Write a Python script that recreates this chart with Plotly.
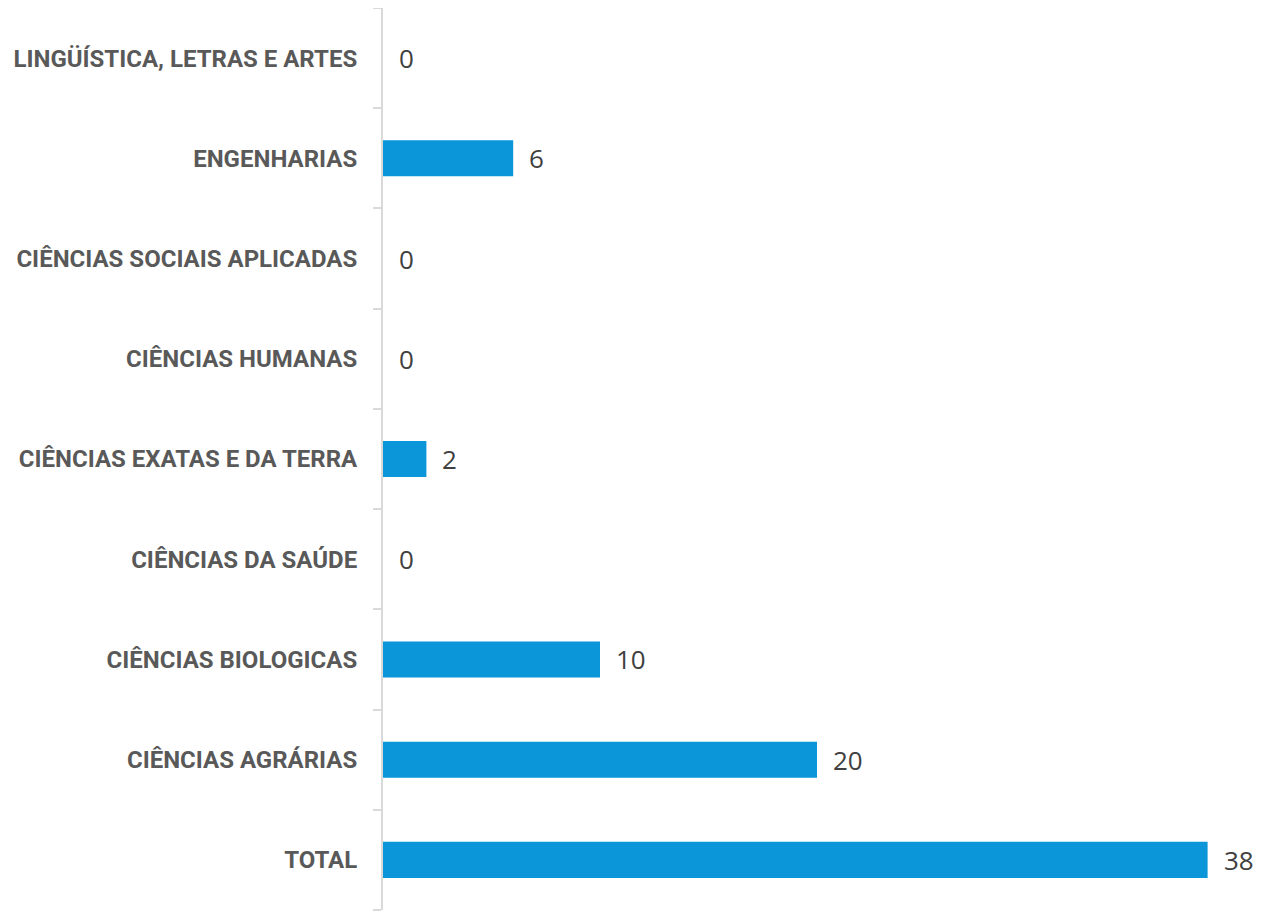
import plotly.graph_objects as go

categories = [
    "TOTAL",
    "CIÊNCIAS AGRÁRIAS",
    "CIÊNCIAS BIOLOGICAS",
    "CIÊNCIAS DA SAÚDE",
    "CIÊNCIAS EXATAS E DA TERRA",
    "CIÊNCIAS HUMANAS",
    "CIÊNCIAS SOCIAIS APLICADAS",
    "ENGENHARIAS",
    "LINGÜÍSTICA, LETRAS E ARTES",
]
values = [38, 20, 10, 0, 2, 0, 0, 6, 0]

BAR_COLOR = "#0A96D8"
AXIS_COLOR = "#D9D9D9"

fig = go.Figure()
fig.add_trace(go.Bar(
    x=values,
    y=categories,
    orientation="h",
    marker=dict(color=BAR_COLOR, line=dict(width=0)),
    hoverinfo="x+y",
))

for c, v in zip(categories, values):
    fig.add_annotation(
        x=v, y=c, text=str(v), showarrow=False,
        xanchor="left", yanchor="middle", xshift=14,
        font=dict(family="Open Sans, Carlito, sans-serif", size=26, color="#404040"),
    )

fig.update_layout(
    width=1256, height=905,
    margin=dict(l=375, r=13, t=0, b=3),
    plot_bgcolor="white", paper_bgcolor="white",
    bargap=0.64,
    showlegend=False,
    xaxis=dict(range=[0, 40], visible=False, fixedrange=True),
    yaxis=dict(
        categoryorder="array", categoryarray=categories,
        showline=True, linecolor=AXIS_COLOR, linewidth=2,
        ticks="outside", ticklen=8, tickcolor=AXIS_COLOR, tickwidth=2,
        tickson="boundaries",
        ticklabelstandoff=19,
        showgrid=False, zeroline=False,
        tickfont=dict(family="Roboto, Liberation Sans, Arial, sans-serif",
                      size=24, color="#595959", weight="bold"),
    ),
)

fig.write_html("out.html")
